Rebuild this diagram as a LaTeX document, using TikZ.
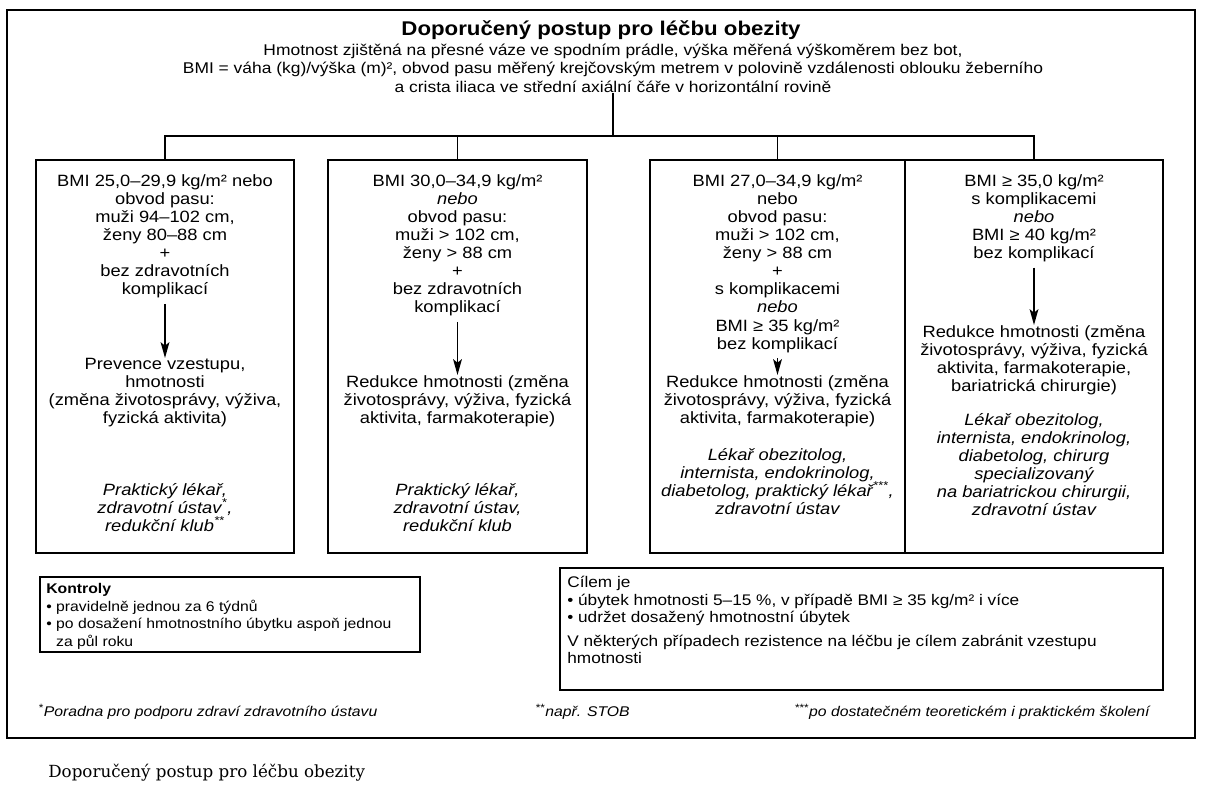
\documentclass[tikz,border=0pt]{standalone}
\usepackage{fontspec}
\setmainfont{Liberation Sans}[FakeStretch=1.12]
\newfontfamily\capfont{DejaVu Serif}
\usetikzlibrary{arrows.meta,positioning}

\begin{document}
\begin{tikzpicture}[x=0.2mm,y=-0.2mm,
  box/.style={draw, line width=0.9pt, inner sep=0pt},
  txt/.style={align=center, inner sep=0pt, anchor=north, font=\fontsize{9.3}{10.3}\selectfont},
  who/.style={txt, font=\fontsize{9.3}{10.3}\selectfont\itshape},
  arr/.style={-{Stealth[length=9pt,width=5pt,inset=2pt]}, line width=0.8pt, shorten <=3pt},
  lst/.style={align=left, inner sep=0pt, anchor=north west, font=\fontsize{8}{10}\selectfont},
  note/.style={inner sep=0pt, font=\fontsize{8}{10}\selectfont\itshape}]
  \useasboundingbox (0,0) rectangle (1206,790);
  \draw[line width=0.9pt] (7,10) rectangle (1195,738);

  %top
  \node[inner sep=0pt, font=\fontsize{11.3}{14}\selectfont\bfseries] (title) at (601,30) {Doporučený postup pro léčbu obezity};
  \node[txt, font=\fontsize{8.85}{10.3}\selectfont] (intro) at (613,44) {Hmotnost zjištěná na přesné váze ve spodním prádle, výška měřená výškoměrem bez bot,\\
    BMI = váha (kg)/výška (m)², obvod pasu měřený krejčovským metrem v polovině vzdálenosti oblouku žeberního\\
    a crista iliaca ve střední axiální čáře v horizontální rovině};
  \coordinate (j) at (613,136);

  %boxes
  \node[box, minimum width=51.6mm, minimum height=78.6mm] (b1) at (165,356.5) {};
  \node[box, minimum width=51.8mm, minimum height=78.6mm] (b2) at (457.5,356.5) {};
  \node[box, minimum width=51mm, minimum height=78.6mm] (b3) at (777.5,356.5) {};
  \node[box, minimum width=51.6mm, minimum height=78.6mm] (b4) at (1034,356.5) {};

  \draw[line width=0.8pt] (intro) -- (j);
  \draw[line width=0.8pt] (b1.north) |- (j) -| (b4.north);
  \draw[line width=0.8pt] (b2.north) -- (b2.north |- j);
  \draw[line width=0.8pt] (b3.north) -- (b3.north |- j);

  %box 1
  \node[txt] (c1) at (165,174) {BMI 25,0–29,9 kg/m² nebo\\obvod pasu:\\muži 94–102 cm,\\ženy 80–88 cm\\+\\bez zdravotních\\komplikací};
  \node[txt] (a1) at (165,358) {Prevence vzestupu,\\hmotnosti\\(změna životosprávy, výživa,\\fyzická aktivita)};
  \node[who] (w1) at (165,483) {Praktický lékař,\\zdravotní ústav\textsuperscript{*},\\redukční klub\textsuperscript{**}};
  \draw[arr] (c1) -- (a1);

  %box 2
  \node[txt] (c2) at (457.5,174) {BMI 30,0–34,9 kg/m²\\\textit{nebo}\\obvod pasu:\\muži > 102 cm,\\ženy > 88 cm\\+\\bez zdravotních\\komplikací};
  \node[txt] (a2) at (457.5,375) {Redukce hmotnosti (změna\\životosprávy, výživa, fyzická\\aktivita, farmakoterapie)};
  \node[who] (w2) at (457.5,483) {Praktický lékař,\\zdravotní ústav,\\redukční klub};
  \draw[arr] (c2) -- (a2);

  %box 3
  \node[txt] (c3) at (777.5,174) {BMI 27,0–34,9 kg/m²\\nebo\\obvod pasu:\\muži > 102 cm,\\ženy > 88 cm\\+\\s komplikacemi\\\textit{nebo}\\BMI ≥ 35 kg/m²\\bez komplikací};
  \node[txt] (a3) at (777.5,375) {Redukce hmotnosti (změna\\životosprávy, výživa, fyzická\\aktivita, farmakoterapie)};
  \node[who] (w3) at (777.5,448) {Lékař obezitolog,\\internista, endokrinolog,\\diabetolog, praktický lékař\textsuperscript{***},\\zdravotní ústav};
  \draw[arr] (c3) -- (a3);

  %box 4
  \node[txt] (c4) at (1034,174) {BMI ≥ 35,0 kg/m²\\s komplikacemi\\\textit{nebo}\\BMI ≥ 40 kg/m²\\bez komplikací};
  \node[txt] (a4) at (1034,325) {Redukce hmotnosti (změna\\životosprávy, výživa, fyzická\\aktivita, farmakoterapie,\\bariatrická chirurgie)};
  \node[who] (w4) at (1034,413) {Lékař obezitolog,\\internista, endokrinolog,\\diabetolog, chirurg\\specializovaný\\na bariatrickou chirurgii,\\zdravotní ústav};
  \draw[arr] (c4) -- (a4);

  %bottom
  \node[box, minimum width=76mm, minimum height=15mm] (ctrl) at (230,614.5) {};
  \node[lst] (ctrltxt) at (46,583) {\textbf{Kontroly}\\• pravidelně jednou za 6 týdnů\\• po dosažení hmotnostního úbytku aspoň jednou\\\phantom{• }za půl roku};
  \node[box, minimum width=120.6mm, minimum height=24.4mm] (goal) at (861.5,629) {};
  \node[lst, font=\fontsize{8.75}{10}\selectfont] (goaltxt) at (567,576) {Cílem je\\• úbytek hmotnosti 5–15 \%, v případě BMI ≥ 35 kg/m² i více\\• udržet dosažený hmotnostní úbytek\\[1.2mm]V některých případech rezistence na léčbu je cílem zabránit vzestupu\\hmotnosti};

  \node[note, anchor=west] (f1) at (38,712) {\textsuperscript{*}Poradna pro podporu zdraví zdravotního ústavu};
  \node[note, anchor=west] (f2) at (535,712) {\textsuperscript{**}např. STOB};
  \node[note, anchor=east] (f3) at (1150,712) {\textsuperscript{***}po dostatečném teoretickém i praktickém školení};

  \node[anchor=west, inner sep=0pt, font=\capfont\fontsize{9.5}{11}\selectfont] (cap) at (48,773) {Doporučený postup pro léčbu obezity};
\end{tikzpicture}
\end{document}
